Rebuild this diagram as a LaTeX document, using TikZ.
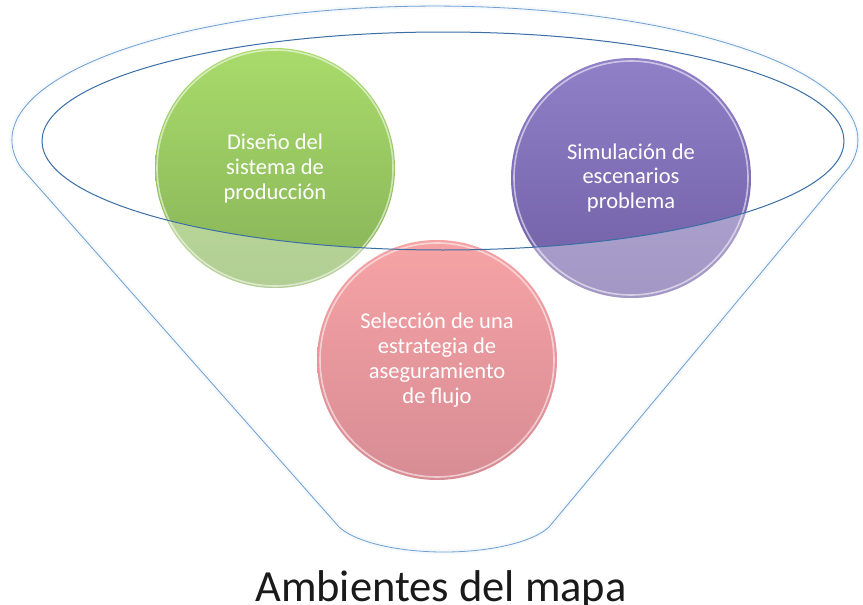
\documentclass[tikz,border=0pt]{standalone}
\usepackage{fontspec}
\setmainfont{Carlito}
\usetikzlibrary{shadings}
\definecolor{funnelblue}{HTML}{6E9FD2}
\definecolor{innerblue}{HTML}{3A6EA5}
\definecolor{greenTop}{HTML}{A9DB6B}
\definecolor{greenBot}{HTML}{86B257}
\definecolor{purpleTop}{HTML}{9080C8}
\definecolor{purpleBot}{HTML}{6F5EA4}
\definecolor{pinkTop}{HTML}{F6A3A5}
\definecolor{pinkBot}{HTML}{D78C94}
\definecolor{labelcol}{HTML}{1A1A1A}
\begin{document}
\begin{tikzpicture}[x=1pt,y=-1pt,
  funnelglow/.style={draw=funnelblue, draw opacity=0.06, line width=5pt},
  funnelline/.style={draw=funnelblue, line width=0.8pt},
  innerline/.style={draw=innerblue, line width=1pt},
  bubble/.style={circle, minimum size=240pt, inner sep=0pt, align=center,
    text=white, font=\fontsize{22.5}{25}\selectfont},
  rim/.style={draw=white, draw opacity=0.55, line width=1.6pt},
  fade/.style={fill=white, fill opacity=0.36}
]
\useasboundingbox (0,0) rectangle (863,605);
\fill[white] (0,0) rectangle (863,605);

% funnel outline
\path[funnelglow] (20.6,167) arc[start angle=168.4, end angle=371.6, x radius=423, y radius=134]
  -- (549,527) arc[start angle=20, end angle=160, x radius=111.7, y radius=38] -- cycle;
\path[funnelline] (20.6,167) arc[start angle=168.4, end angle=371.6, x radius=423, y radius=134]
  -- (549,527) arc[start angle=20, end angle=160, x radius=111.7, y radius=38] -- cycle;

% back circles
\node[bubble, top color=greenTop, bottom color=greenBot] (g) at (275,168)
  {Diseño del\\sistema de\\producción};
\draw[rim] (g.center) circle (118);
\node[bubble, top color=purpleTop, bottom color=purpleBot] (p) at (631,178)
  {Simulación de\\escenarios\\problema};
\draw[rim] (p.center) circle (117);

% faded lower parts (seen through funnel front)
\begin{scope}
  \clip (0,141) -- (42,141) arc[start angle=180, end angle=0, x radius=401, y radius=109]
    -- (863,141) -- (863,605) -- (0,605) -- cycle;
  \fill[fade] (g.center) circle (120);
  \fill[fade] (p.center) circle (120);
\end{scope}

% front circle
\node[bubble, top color=pinkTop, bottom color=pinkBot] (r) at (437,360)
  {Selección de una\\estrategia de\\aseguramiento\\de flujo};
\draw[rim] (r.center) circle (117);

% inner rim of funnel
\draw[innerline] (443,141) ellipse [x radius=401, y radius=109];

% label
\node[font=\fontsize{44.5}{50}\selectfont, text=labelcol, anchor=base] (lbl) at (441,601)
  {Ambientes del mapa};
\end{tikzpicture}
\end{document}
